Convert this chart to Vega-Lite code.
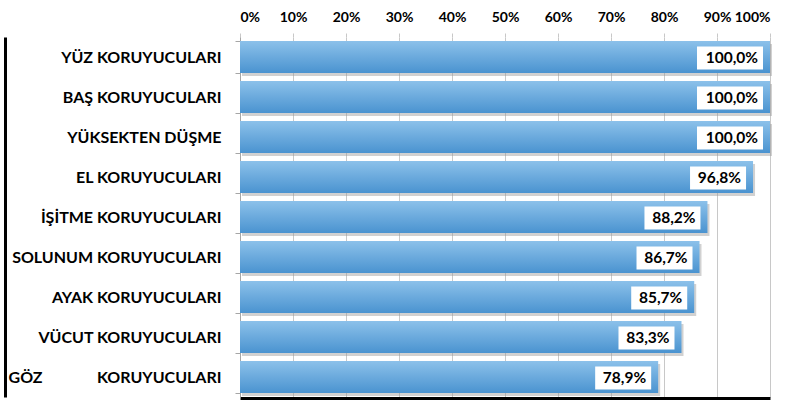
{
  "$schema": "https://vega.github.io/schema/vega-lite/v6.json",
  "width": 530,
  "height": 360,
  "autosize": "none",
  "padding": {"left": 240, "top": 37, "right": 27, "bottom": 6},
  "background": "white",
  "config": {
    "locale": {"number": {"decimal": ",", "thousands": ".", "grouping": [3], "currency": ["", " TL"]}},
    "view": {"stroke": null},
    "font": "Lato"
  },
  "data": {
    "values": [
      {"category": "YÜZ KORUYUCULARI", "value": 1.0},
      {"category": "BAŞ KORUYUCULARI", "value": 1.0},
      {"category": "YÜKSEKTEN DÜŞME", "value": 1.0},
      {"category": "EL KORUYUCULARI", "value": 0.968},
      {"category": "İŞİTME KORUYUCULARI", "value": 0.882},
      {"category": "SOLUNUM KORUYUCULARI", "value": 0.867},
      {"category": "AYAK KORUYUCULARI", "value": 0.857},
      {"category": "VÜCUT KORUYUCULARI", "value": 0.833},
      {"category": "GÖZ\u00a0\u00a0\u00a0\u00a0\u00a0\u00a0\u00a0\u00a0\u00a0\u00a0\u00a0\u00a0\u00a0\u00a0KORUYUCULARI", "value": 0.789}
    ]
  },
  "resolve": {"axis": {"x": "independent", "y": "independent"}},
  "layer": [
    {
      "mark": {"type": "bar", "fill": "#9a9a9a", "opacity": 0.45, "xOffset": 2, "yOffset": 3},
      "encoding": {
        "y": {"field": "category", "type": "nominal", "sort": null, "scale": {"paddingInner": 0.2, "paddingOuter": 0.1},
              "axis": {"orient": "left", "title": null, "tickBand": "extent", "domainColor": "#a6a6a6", "tickColor": "#a6a6a6", "tickSize": 5,
                       "labelFont": "Lato", "labelFontWeight": "bold", "labelFontSize": 16, "labelColor": "black", "labelPadding": 14, "labelLimit": 300}},
        "x": {"field": "value", "type": "quantitative", "scale": {"domain": [0, 1], "nice": false},
              "axis": {"orient": "top", "title": null, "format": ".0%", "values": [0,0.1,0.2,0.3,0.4,0.5,0.6,0.7,0.8,0.9,1], "labelOverlap": false,
                       "domain": false, "grid": true, "gridColor": "#c8c8c8", "tickColor": "#c8c8c8", "tickSize": 4,
                       "labelFont": "Lato", "labelFontWeight": "bold", "labelFontSize": 14, "labelColor": "black", "labelPadding": 12, "labelBaseline": "alphabetic"}}
      }
    },
    {
      "mark": {"type": "bar", "color": {"gradient": "linear", "x1": 0, "y1": 0, "x2": 0, "y2": 1,
               "stops": [{"offset": 0, "color": "#8cc1ea"}, {"offset": 1, "color": "#4a93d0"}]}},
      "encoding": {
        "y": {"field": "category", "type": "nominal", "sort": null, "axis": null},
        "x": {"field": "value", "type": "quantitative", "axis": null}
      }
    },
    {
      "mark": {"type": "point", "filled": true, "fill": "white", "opacity": 1, "strokeWidth": 0, "size": 3600, "yOffset": 1},
      "encoding": {
        "y": {"field": "category", "type": "nominal", "sort": null, "axis": null},
        "x": {"field": "value", "type": "quantitative", "axis": null},
        "shape": {"condition": {"test": "datum.value >= 1", "value": "M-2.4333,-0.3833H-0.2333V0.3833H-2.4333Z"}, "value": "M-2.1,-0.3833H-0.2333V0.3833H-2.1Z"}
      }
    },
    {
      "mark": {"type": "text", "align": "right", "baseline": "middle", "dx": -12, "yOffset": 1, "font": "Lato", "fontWeight": "bold", "fontSize": 15.5, "color": "black"},
      "encoding": {
        "y": {"field": "category", "type": "nominal", "sort": null, "axis": null},
        "x": {"field": "value", "type": "quantitative", "axis": null},
        "text": {"field": "value", "type": "quantitative", "format": ".1%"}
      }
    },
    {
      "mark": {"type": "bar", "opacity": 0},
      "encoding": {
        "y": {"field": "category", "type": "nominal", "sort": null,
              "axis": {"orient": "left", "offset": 235, "title": null, "labels": false, "ticks": false, "grid": false, "domainColor": "black", "domainWidth": 3}},
        "x": {"field": "value", "type": "quantitative",
              "axis": {"orient": "bottom", "offset": 1, "title": null, "labels": false, "ticks": false, "grid": false, "domainColor": "black", "domainWidth": 3}}
      }
    }
  ]
}
